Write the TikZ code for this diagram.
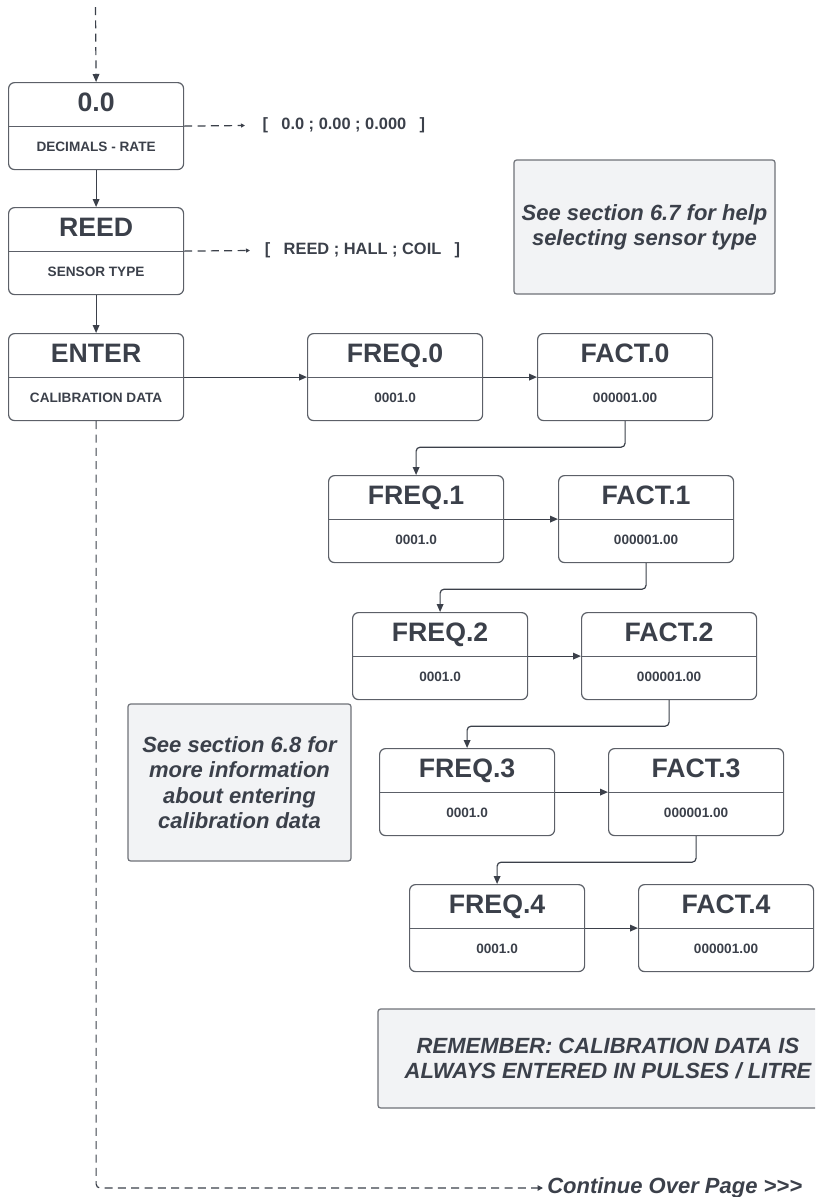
\documentclass[tikz,border=0pt]{standalone}
\usepackage{fontspec}
\setmainfont{Liberation Sans}
\usetikzlibrary{arrows.meta, calc}

\definecolor{ink}{HTML}{3B404A}
\definecolor{rim}{HTML}{5C6068}
\definecolor{notefill}{HTML}{F2F3F5}
\definecolor{noterim}{HTML}{6E7178}

\begin{document}
\begin{tikzpicture}[x = 0.75pt, y = -0.75pt, every node/.append style={text = ink, align = center},
  menubox/.style={draw = rim, line width = 0.9pt, rounded corners = 4.5pt, minimum width = 131.25pt, minimum height = 65.25pt, inner sep = 0pt, anchor = north west},
  headtext/.style={font = \fontsize{20}{24}\selectfont\bfseries, anchor = base},
  subtext/.style={font = \fontsize{10.2}{12}\selectfont\bfseries, anchor = base},
  opttext/.style={font = \fontsize{12.3}{14}\selectfont\bfseries, anchor = west, inner xsep = 0pt},
  notebox/.style={draw = noterim, fill = notefill, line width = 0.9pt, rounded corners = 2pt, inner sep = 0pt, font = \fontsize{16.5}{19}\selectfont\bfseries\itshape},
  link/.style={draw = ink, line width = 0.9pt, -{Triangle[length = 6pt, width = 5pt]}},
  hintline/.style={link, dash pattern = on 6pt off 4pt}]

  \path [use as bounding box, clip] (0, 0) rectangle (815, 1197);

  % menu boxes
  \foreach \n/\x/\y/\t/\s in {dec/8/82/0.0/DECIMALS - RATE, sens/8/207/REED/SENSOR TYPE, enter/8/333/ENTER/CALIBRATION DATA,
      freq0/307/333/FREQ.0/0001.0, fact0/537/333/FACT.0/000001.00,
      freq1/328/475/FREQ.1/0001.0, fact1/558/475/FACT.1/000001.00,
      freq2/352/612/FREQ.2/0001.0, fact2/581/612/FACT.2/000001.00,
      freq3/379/748/FREQ.3/0001.0, fact3/608/748/FACT.3/000001.00,
      freq4/409/884/FREQ.4/0001.0, fact4/638/884/FACT.4/000001.00} {
    \node [menubox] (\n) at (\x, \y) {};
    \draw [draw = rim, line width = 0.9pt] (\n.west) -- (\n.east);
    \node [headtext] at ($(\n.center) + (0, -15)$) {\t};
    \node [subtext] at ($(\n.center) + (0, 25.5)$) {\s};
  }

  % options
  \node [opttext] (decopt) at (245, 125.5) {\hspace{13pt}[\hspace{10pt}0.0 ; 0.00 ; 0.000\hspace{10pt}]};
  \node [opttext] (sensopt) at (250, 250.5) {\hspace{11pt}[\hspace{10pt}REED ; HALL ; COIL\hspace{10pt}]};
  \draw [hintline, -{Triangle[length = 3pt, width = 3pt]}] (dec.east) -- (decopt.west);
  \draw [hintline, -{Triangle[length = 3pt, width = 3pt]}] (sens.east) -- (sensopt.west);

  % notes
  \node [notebox, minimum width = 195.75pt, minimum height = 100.5pt] (sensnote) at (644.5, 227) {See section 6.7 for help\\selecting sensor type};
  \node [notebox, minimum width = 167.25pt, minimum height = 117.75pt] (calnote) at (239.5, 782.5) {See section 6.8 for\\more information\\about entering\\calibration data};
  \node [notebox, minimum width = 345pt, minimum height = 74.25pt] (remember) at (608, 1058.5) {REMEMBER: CALIBRATION DATA IS\\ALWAYS ENTERED IN PULSES / LITRE};

  \node [font = \fontsize{16.5}{19}\selectfont\bfseries\itshape, anchor = west, inner xsep = 3pt] (cont) at (543, 1188) {Continue Over Page >{}>{}>};

  % flow
  \coordinate (start) at (95.5, 7);
  \draw [hintline] (start) -- (dec.north);
  \draw [link] (dec.south) -- (sens.north);
  \draw [link] (sens.south) -- (enter.north);
  \draw [link] (enter.east) -- (freq0.west);
  \foreach \i in {0, ..., 4} \draw [link] (freq\i.east) -- (fact\i.west);
  \foreach \i in {0, ..., 3} {
    \pgfmathtruncatemacro\j{\i + 1}
    \draw [link, rounded corners = 3pt] (fact\i.south) -- ++(0, 26) -| (freq\j.north);
  }
  \draw [hintline, rounded corners = 3pt, -{Triangle[length = 4pt, width = 4pt]}] (enter.south) |- (cont.west);

\end{tikzpicture}
\end{document}
